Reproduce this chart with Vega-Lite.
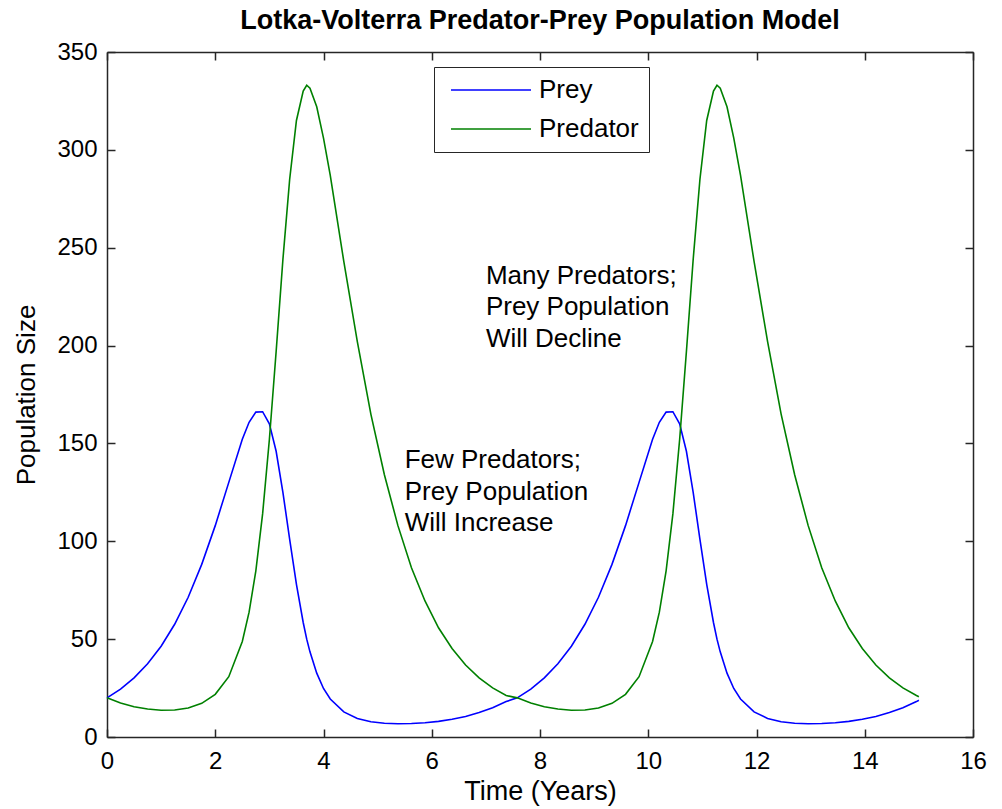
{
  "$schema": "https://vega.github.io/schema/vega-lite/v6.json",
  "autosize": {"type": "none"},
  "padding": {"left": 107, "top": 52, "right": 29, "bottom": 72},
  "width": 866,
  "height": 685,
  "title": {"text": "Lotka-Volterra Predator-Prey Population Model", "font": "Liberation Sans", "fontSize": 27, "fontWeight": "bold", "color": "black", "offset": 5, "anchor": "middle"},
  "config": {
    "view": {"stroke": null},
    "axis": {"grid": false, "domainColor": "#262626", "domainWidth": 1.5, "tickColor": "#262626", "tickWidth": 1.5, "tickSize": -8, "labelFont": "Liberation Sans", "labelFontSize": 24, "labelColor": "black", "titleFont": "Liberation Sans", "titleFontSize": 27, "titleFontWeight": "normal", "titleColor": "black"}
  },
  "layer": [
    {
      "data": {"values": [
        {"t": 0, "v": 20, "s": "Prey"}, {"t": 0.25, "v": 24.5, "s": "Prey"}, {"t": 0.5, "v": 30.2, "s": "Prey"}, {"t": 0.75, "v": 37.4, "s": "Prey"}, {"t": 1.0, "v": 46.4, "s": "Prey"}, {"t": 1.25, "v": 57.6, "s": "Prey"}, {"t": 1.5, "v": 71.4, "s": "Prey"}, {"t": 1.75, "v": 88.2, "s": "Prey"}, {"t": 2.0, "v": 108, "s": "Prey"}, {"t": 2.25, "v": 130.1, "s": "Prey"}, {"t": 2.5, "v": 152.1, "s": "Prey"}, {"t": 2.625, "v": 160.8, "s": "Prey"}, {"t": 2.75, "v": 166, "s": "Prey"}, {"t": 2.875, "v": 166.2, "s": "Prey"}, {"t": 3.0, "v": 160, "s": "Prey"}, {"t": 3.125, "v": 146, "s": "Prey"}, {"t": 3.25, "v": 125, "s": "Prey"}, {"t": 3.375, "v": 101, "s": "Prey"}, {"t": 3.5, "v": 78, "s": "Prey"}, {"t": 3.625, "v": 58.5, "s": "Prey"}, {"t": 3.69, "v": 50, "s": "Prey"}, {"t": 3.75, "v": 43.5, "s": "Prey"}, {"t": 3.875, "v": 32.6, "s": "Prey"}, {"t": 4.0, "v": 24.8, "s": "Prey"}, {"t": 4.125, "v": 19.4, "s": "Prey"}, {"t": 4.375, "v": 12.8, "s": "Prey"}, {"t": 4.625, "v": 9.5, "s": "Prey"}, {"t": 4.875, "v": 7.8, "s": "Prey"}, {"t": 5.125, "v": 7.0, "s": "Prey"}, {"t": 5.375, "v": 6.8, "s": "Prey"}, {"t": 5.625, "v": 6.9, "s": "Prey"}, {"t": 5.875, "v": 7.3, "s": "Prey"}, {"t": 6.125, "v": 8.0, "s": "Prey"}, {"t": 6.375, "v": 9.1, "s": "Prey"}, {"t": 6.625, "v": 10.5, "s": "Prey"}, {"t": 6.875, "v": 12.5, "s": "Prey"}, {"t": 7.125, "v": 14.9, "s": "Prey"}, {"t": 7.375, "v": 18.1, "s": "Prey"},
        {"t": 7.58, "v": 20, "s": "Prey"}, {"t": 7.83, "v": 24.5, "s": "Prey"}, {"t": 8.08, "v": 30.2, "s": "Prey"}, {"t": 8.33, "v": 37.4, "s": "Prey"}, {"t": 8.58, "v": 46.4, "s": "Prey"}, {"t": 8.83, "v": 57.6, "s": "Prey"}, {"t": 9.08, "v": 71.4, "s": "Prey"}, {"t": 9.33, "v": 88.2, "s": "Prey"}, {"t": 9.58, "v": 108, "s": "Prey"}, {"t": 9.83, "v": 130.1, "s": "Prey"}, {"t": 10.08, "v": 152.1, "s": "Prey"}, {"t": 10.205, "v": 160.8, "s": "Prey"}, {"t": 10.33, "v": 166, "s": "Prey"}, {"t": 10.455, "v": 166.2, "s": "Prey"}, {"t": 10.58, "v": 160, "s": "Prey"}, {"t": 10.705, "v": 146, "s": "Prey"}, {"t": 10.83, "v": 125, "s": "Prey"}, {"t": 10.955, "v": 101, "s": "Prey"}, {"t": 11.08, "v": 78, "s": "Prey"}, {"t": 11.205, "v": 58.5, "s": "Prey"}, {"t": 11.27, "v": 50, "s": "Prey"}, {"t": 11.33, "v": 43.5, "s": "Prey"}, {"t": 11.455, "v": 32.6, "s": "Prey"}, {"t": 11.58, "v": 24.8, "s": "Prey"}, {"t": 11.705, "v": 19.4, "s": "Prey"}, {"t": 11.955, "v": 12.8, "s": "Prey"}, {"t": 12.205, "v": 9.5, "s": "Prey"}, {"t": 12.455, "v": 7.8, "s": "Prey"}, {"t": 12.705, "v": 7.0, "s": "Prey"}, {"t": 12.955, "v": 6.8, "s": "Prey"}, {"t": 13.205, "v": 6.9, "s": "Prey"}, {"t": 13.455, "v": 7.3, "s": "Prey"}, {"t": 13.705, "v": 8.0, "s": "Prey"}, {"t": 13.955, "v": 9.1, "s": "Prey"}, {"t": 14.205, "v": 10.5, "s": "Prey"}, {"t": 14.455, "v": 12.5, "s": "Prey"}, {"t": 14.705, "v": 14.9, "s": "Prey"}, {"t": 14.955, "v": 18.1, "s": "Prey"}, {"t": 15.0, "v": 18.8, "s": "Prey"},
        {"t": 0, "v": 20, "s": "Predator"}, {"t": 0.25, "v": 17.4, "s": "Predator"}, {"t": 0.5, "v": 15.5, "s": "Predator"}, {"t": 0.75, "v": 14.3, "s": "Predator"}, {"t": 1.0, "v": 13.7, "s": "Predator"}, {"t": 1.25, "v": 13.8, "s": "Predator"}, {"t": 1.5, "v": 14.8, "s": "Predator"}, {"t": 1.75, "v": 17.2, "s": "Predator"}, {"t": 2.0, "v": 21.8, "s": "Predator"}, {"t": 2.25, "v": 30.8, "s": "Predator"}, {"t": 2.5, "v": 48.8, "s": "Predator"}, {"t": 2.625, "v": 63.8, "s": "Predator"}, {"t": 2.75, "v": 84.9, "s": "Predator"}, {"t": 2.875, "v": 114, "s": "Predator"}, {"t": 3.0, "v": 152, "s": "Predator"}, {"t": 3.125, "v": 197, "s": "Predator"}, {"t": 3.25, "v": 244, "s": "Predator"}, {"t": 3.375, "v": 285, "s": "Predator"}, {"t": 3.5, "v": 315, "s": "Predator"}, {"t": 3.625, "v": 330, "s": "Predator"}, {"t": 3.69, "v": 333, "s": "Predator"}, {"t": 3.75, "v": 331.5, "s": "Predator"}, {"t": 3.875, "v": 322, "s": "Predator"}, {"t": 4.0, "v": 306, "s": "Predator"}, {"t": 4.125, "v": 287, "s": "Predator"}, {"t": 4.375, "v": 243, "s": "Predator"}, {"t": 4.625, "v": 202, "s": "Predator"}, {"t": 4.875, "v": 165, "s": "Predator"}, {"t": 5.125, "v": 134, "s": "Predator"}, {"t": 5.375, "v": 108, "s": "Predator"}, {"t": 5.625, "v": 86.5, "s": "Predator"}, {"t": 5.875, "v": 69.5, "s": "Predator"}, {"t": 6.125, "v": 55.8, "s": "Predator"}, {"t": 6.375, "v": 45.2, "s": "Predator"}, {"t": 6.625, "v": 36.8, "s": "Predator"}, {"t": 6.875, "v": 30.2, "s": "Predator"}, {"t": 7.125, "v": 25.1, "s": "Predator"}, {"t": 7.375, "v": 21.2, "s": "Predator"},
        {"t": 7.58, "v": 20, "s": "Predator"}, {"t": 7.83, "v": 17.4, "s": "Predator"}, {"t": 8.08, "v": 15.5, "s": "Predator"}, {"t": 8.33, "v": 14.3, "s": "Predator"}, {"t": 8.58, "v": 13.7, "s": "Predator"}, {"t": 8.83, "v": 13.8, "s": "Predator"}, {"t": 9.08, "v": 14.8, "s": "Predator"}, {"t": 9.33, "v": 17.2, "s": "Predator"}, {"t": 9.58, "v": 21.8, "s": "Predator"}, {"t": 9.83, "v": 30.8, "s": "Predator"}, {"t": 10.08, "v": 48.8, "s": "Predator"}, {"t": 10.205, "v": 63.8, "s": "Predator"}, {"t": 10.33, "v": 84.9, "s": "Predator"}, {"t": 10.455, "v": 114, "s": "Predator"}, {"t": 10.58, "v": 152, "s": "Predator"}, {"t": 10.705, "v": 197, "s": "Predator"}, {"t": 10.83, "v": 244, "s": "Predator"}, {"t": 10.955, "v": 285, "s": "Predator"}, {"t": 11.08, "v": 315, "s": "Predator"}, {"t": 11.205, "v": 330, "s": "Predator"}, {"t": 11.27, "v": 333, "s": "Predator"}, {"t": 11.33, "v": 331.5, "s": "Predator"}, {"t": 11.455, "v": 322, "s": "Predator"}, {"t": 11.58, "v": 306, "s": "Predator"}, {"t": 11.705, "v": 287, "s": "Predator"}, {"t": 11.955, "v": 243, "s": "Predator"}, {"t": 12.205, "v": 202, "s": "Predator"}, {"t": 12.455, "v": 165, "s": "Predator"}, {"t": 12.705, "v": 134, "s": "Predator"}, {"t": 12.955, "v": 108, "s": "Predator"}, {"t": 13.205, "v": 86.5, "s": "Predator"}, {"t": 13.455, "v": 69.5, "s": "Predator"}, {"t": 13.705, "v": 55.8, "s": "Predator"}, {"t": 13.955, "v": 45.2, "s": "Predator"}, {"t": 14.205, "v": 36.8, "s": "Predator"}, {"t": 14.455, "v": 30.2, "s": "Predator"}, {"t": 14.705, "v": 25.1, "s": "Predator"}, {"t": 14.955, "v": 21.2, "s": "Predator"}, {"t": 15.0, "v": 20.6, "s": "Predator"}
      ]},
      "mark": {"type": "line", "strokeWidth": 1.6},
      "encoding": {
        "x": {"field": "t", "type": "quantitative", "scale": {"domain": [0, 16], "nice": false, "zero": false}, "axis": {"orient": "bottom", "title": "Time (Years)", "values": [0, 2, 4, 6, 8, 10, 12, 14, 16], "labelPadding": 20, "titlePadding": 5, "labelFlush": false}},
        "y": {"field": "v", "type": "quantitative", "scale": {"domain": [0, 350], "nice": false}, "axis": {"orient": "left", "title": "Population Size", "titleFontSize": 26, "values": [0, 50, 100, 150, 200, 250, 300, 350], "labelPadding": 18, "titlePadding": 17, "labelFlush": false}},
        "color": {"field": "s", "type": "nominal", "scale": {"domain": ["Prey", "Predator"], "range": ["#0000ff", "#008000"]},
          "legend": {"orient": "none", "legendX": 327, "legendY": 15, "title": null, "symbolType": "M-4,0H4", "symbolSize": 400, "symbolOffset": 34, "symbolStrokeWidth": 1.6, "labelOffset": 35, "labelFont": "Liberation Sans", "labelFontSize": 26, "labelColor": "black", "strokeColor": "#262626", "fillColor": "white", "padding": 10, "rowPadding": 13}},
        "order": {"field": "t", "type": "quantitative"}
      }
    },
    {
      "data": {"values": [
        {"t": 5.5, "v": 141.5, "label": "Few Predators;\nPrey Population\nWill Increase"},
        {"t": 7, "v": 235.7, "label": "Many Predators;\nPrey Population\nWill Decline"}
      ]},
      "mark": {"type": "text", "align": "left", "baseline": "middle", "lineBreak": "\n", "lineHeight": 31.5, "font": "Liberation Sans", "fontSize": 26, "color": "black"},
      "encoding": {
        "x": {"field": "t", "type": "quantitative", "axis": {"orient": "top", "labels": false, "title": null, "values": [0, 2, 4, 6, 8, 10, 12, 14, 16]}},
        "y": {"field": "v", "type": "quantitative", "axis": {"orient": "right", "labels": false, "title": null, "values": [0, 50, 100, 150, 200, 250, 300, 350]}},
        "text": {"field": "label"}
      }
    }
  ],
  "resolve": {"axis": {"x": "independent", "y": "independent"}}
}
